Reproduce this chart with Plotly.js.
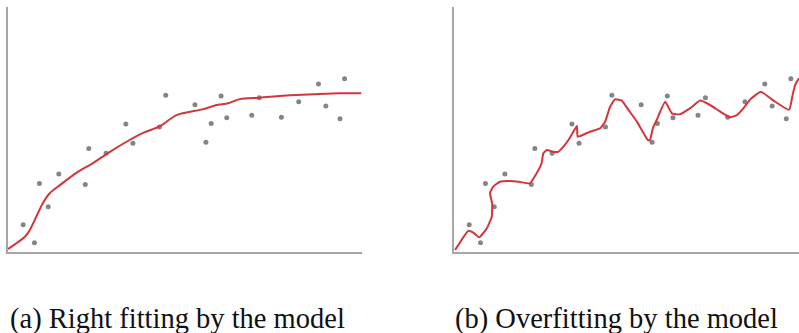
<!DOCTYPE html>
<html>
<head>
<meta charset="utf-8">
<script src="https://cdn.plot.ly/plotly-3.0.1.min.js"></script>
<style>html,body{margin:0;padding:0;background:#fff;}#chart{width:799px;height:333px;}</style>
</head>
<body>
<div id="chart"></div>
<script>
// Observed data points (shared by both panels)
const pointsX = [0.43,0.75,0.89,1.14,1.44,2.19,2.29,2.78,3.34,3.54,4.29,4.47,5.30,5.61,5.76,6.04,6.20,6.91,7.12,7.75,8.24,8.80,9.01,9.41,9.54];
const pointsY = [1.11,0.38,2.80,1.85,3.18,2.76,4.22,4.03,5.22,4.44,5.10,6.40,6.01,4.48,5.25,6.37,5.48,5.58,6.30,5.50,6.13,6.86,5.96,5.44,7.07];

// (a) right fitting curve
const fitX = [0,0.48,0.62,0.99,1.19,1.47,1.95,2.41,2.89,3.36,3.83,4.31,4.78,5.44,5.63,5.91,6.24,6.57,7.14,7.99,8.65,9.41,10.02];
const fitY = [0.12,0.62,0.90,2.0,2.41,2.73,3.24,3.63,4.09,4.50,4.86,5.14,5.59,5.80,5.87,6.0,6.07,6.24,6.30,6.40,6.44,6.48,6.48];

// (b) overfitting curve
const overX = [0.03,0.41,0.55,0.72,0.93,1.07,1.08,1.02,1.11,1.30,1.59,1.87,2.15,2.34,2.48,2.53,2.63,2.81,2.95,3.10,3.24,3.38,3.48,3.50,3.57,3.85,4.14,4.28,4.42,4.56,4.75,4.94,5.18,5.49,5.55,5.63,5.74,5.98,6.17,6.40,6.69,6.97,7.25,7.54,7.82,8.01,8.20,8.39,8.69,9.05,9.49,9.58,9.66,9.77];
const overY = [0.08,0.87,0.79,0.60,0.97,1.44,1.99,2.40,2.67,2.87,2.90,2.86,2.80,3.21,3.62,4.03,4.16,4.09,4.09,4.30,4.57,4.91,5.14,4.71,4.73,4.91,5.05,5.32,5.93,6.23,6.18,5.80,5.32,4.57,4.57,5.05,5.39,6.13,5.66,5.62,5.87,6.18,6.0,5.73,5.50,5.59,5.87,6.23,6.54,6.18,5.80,6.34,6.82,7.09];

const captions = ["(a) Right fitting by the model", "(b) Overfitting by the model"];

const ptStyle = {color:'#858585', size:5};
const lineStyle = {color:'#d2363b', width:2};

const traces = [
  {x:pointsX, y:pointsY, xaxis:'x', yaxis:'y', mode:'markers', type:'scatter', marker:ptStyle, hoverinfo:'skip'},
  {x:fitX, y:fitY, xaxis:'x', yaxis:'y', mode:'lines', type:'scatter', line:Object.assign({shape:'spline', smoothing:0.8}, lineStyle), hoverinfo:'skip'},
  {x:pointsX, y:pointsY, xaxis:'x2', yaxis:'y2', mode:'markers', type:'scatter', marker:ptStyle, hoverinfo:'skip'},
  {x:overX, y:overY, xaxis:'x2', yaxis:'y2', mode:'lines', type:'scatter', line:Object.assign({shape:'spline', smoothing:0.4}, lineStyle), hoverinfo:'skip'}
];

const axBase = {showgrid:false, zeroline:false, showticklabels:false, ticks:'', showline:true, linecolor:'#a6a6a6', linewidth:2, fixedrange:true};

const layout = {
  width:799, height:333,
  margin:{l:0, r:0, t:7, b:81, pad:0},
  paper_bgcolor:'#fff', plot_bgcolor:'#fff',
  showlegend:false,
  xaxis:Object.assign({}, axBase, {domain:[8/799, 361.5/799], range:[0,10.02], anchor:'y'}),
  yaxis:Object.assign({}, axBase, {domain:[0,1], range:[0,10], anchor:'x'}),
  xaxis2:Object.assign({}, axBase, {domain:[454/799, 1], range:[0,9.77], anchor:'y2'}),
  yaxis2:Object.assign({}, axBase, {domain:[0,1], range:[0,10], anchor:'x2'}),
  annotations:[
    {text:captions[0], xref:'paper', yref:'paper', x:177.5/799, y:-0.2, xanchor:'center', yanchor:'top', showarrow:false, font:{family:'Liberation Serif, serif', size:28.5, color:'#111'}},
    {text:captions[1], xref:'paper', yref:'paper', x:616.5/799, y:-0.2, xanchor:'center', yanchor:'top', showarrow:false, font:{family:'Liberation Serif, serif', size:28.5, color:'#111'}}
  ]
};

Plotly.newPlot('chart', traces, layout, {displayModeBar:false, staticPlot:true});
</script>
</body>
</html>
